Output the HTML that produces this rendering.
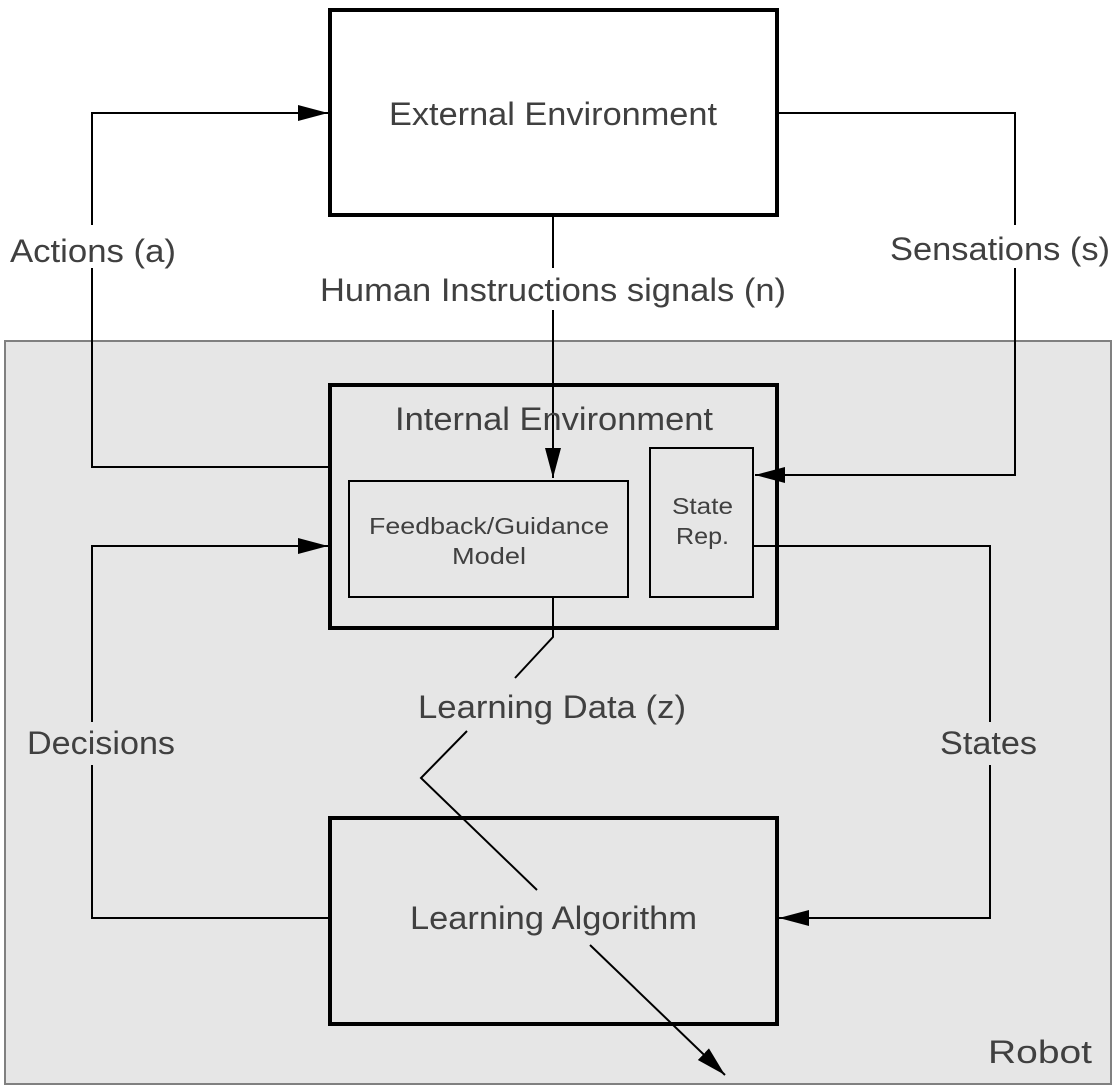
<!DOCTYPE html>
<html><head><style>body{margin:0;background:#fff}svg{display:block}</style></head><body>
<svg width="1116" height="1089" viewBox="0 0 1116 1089" xmlns="http://www.w3.org/2000/svg" font-family="Liberation Sans, Arial, sans-serif" fill="#404040">
<defs><marker id="b" markerWidth="30" markerHeight="20" refX="30" refY="10" orient="auto" markerUnits="userSpaceOnUse"><path d="M0,2 L30,10 L0,18z" fill="#000"/></marker></defs>
<rect x="5" y="341" width="1106" height="743" fill="#e6e6e6" stroke="#808080" stroke-width="2"/>
<rect x="330" y="10" width="447" height="205" fill="#fff" stroke="#000" stroke-width="4"/>
<rect x="330" y="385" width="447" height="243" fill="none" stroke="#000" stroke-width="4"/>
<rect x="349" y="481" width="279" height="116" fill="none" stroke="#000" stroke-width="2"/>
<rect x="650" y="448" width="103" height="149" fill="none" stroke="#000" stroke-width="2"/>
<rect x="330" y="818" width="447" height="206" fill="none" stroke="#000" stroke-width="4"/>
<g stroke="#000" stroke-width="2" fill="none">
<path d="M330,467 H92 V268"/><path d="M92,225 V113 H328" marker-end="url(#b)"/>
<path d="M777,113 H1015 V225"/><path d="M1015,268 V475 H755" marker-end="url(#b)"/>
<path d="M553,215 V268"/><path d="M553,310 V478" marker-end="url(#b)"/>
<path d="M330,918 H92 V765"/><path d="M92,722 V546 H328" marker-end="url(#b)"/>
<path d="M753,546 H990 V722"/><path d="M990,765 V918 H779" marker-end="url(#b)"/>
<path d="M553,597 V637 L515,678"/>
<path d="M467,731 L421,778 L537,890"/>
<path d="M590,945 L725,1075" marker-end="url(#b)"/>
</g>
<g font-size="32">
<text x="389" y="125" textLength="328" lengthAdjust="spacingAndGlyphs">External Environment</text>
<text x="10" y="262" textLength="166" lengthAdjust="spacingAndGlyphs">Actions (a)</text>
<text x="890" y="260" textLength="220" lengthAdjust="spacingAndGlyphs">Sensations (s)</text>
<text x="320" y="301" textLength="466" lengthAdjust="spacingAndGlyphs">Human Instructions signals (n)</text>
<text x="395" y="430" textLength="318" lengthAdjust="spacingAndGlyphs">Internal Environment</text>
<text x="418" y="718" textLength="268" lengthAdjust="spacingAndGlyphs">Learning Data (z)</text>
<text x="27" y="754" textLength="148" lengthAdjust="spacingAndGlyphs">Decisions</text>
<text x="940" y="754" textLength="97" lengthAdjust="spacingAndGlyphs">States</text>
<text x="410" y="929" textLength="287" lengthAdjust="spacingAndGlyphs">Learning Algorithm</text>
<text x="988" y="1063" textLength="104" lengthAdjust="spacingAndGlyphs">Robot</text>
</g>
<g font-size="23">
<text x="369" y="534" textLength="240" lengthAdjust="spacingAndGlyphs">Feedback/Guidance</text>
<text x="452" y="564" textLength="74" lengthAdjust="spacingAndGlyphs">Model</text>
<text x="672" y="514" textLength="61" lengthAdjust="spacingAndGlyphs">State</text>
<text x="676" y="544" textLength="53" lengthAdjust="spacingAndGlyphs">Rep.</text>
</g>
</svg>
</body></html>
